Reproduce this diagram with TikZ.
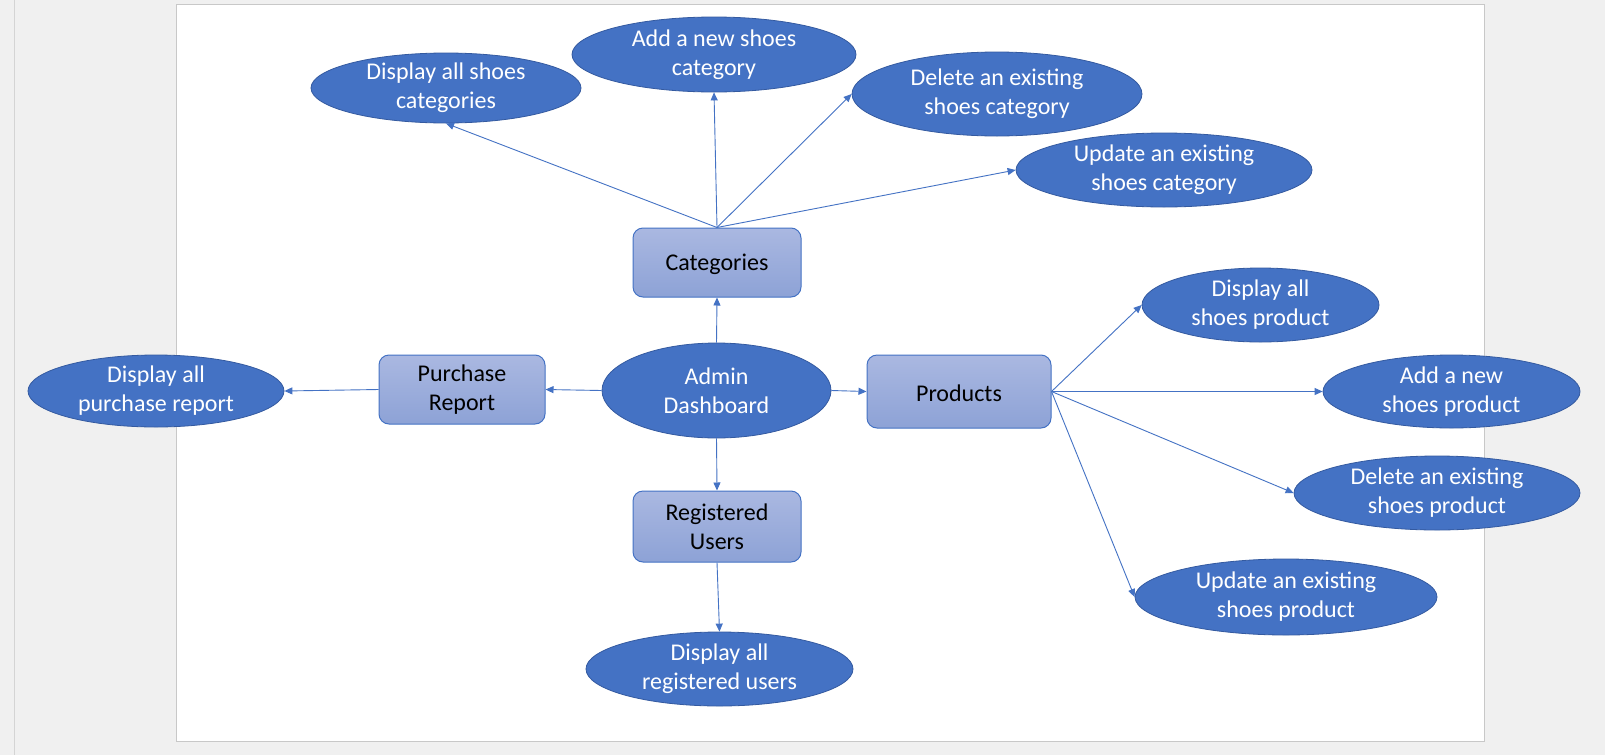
\documentclass[tikz,border=0pt]{standalone}
\usepackage{fontspec}
\setmainfont{Carlito}
\usetikzlibrary{shapes.geometric,arrows.meta}
\definecolor{obl}{RGB}{68,114,196}
\definecolor{oedge}{RGB}{52,90,160}
\definecolor{btop}{RGB}{170,184,225}
\definecolor{bbot}{RGB}{141,162,214}
\definecolor{bgc}{RGB}{240,240,240}
\definecolor{pageedge}{RGB}{200,200,200}
\definecolor{sideline}{RGB}{212,212,212}
\begin{document}
\begin{tikzpicture}[x=1pt,y=-1pt,
  usecase/.style={ellipse, fill=obl, draw=oedge, line width=0.8pt, text=white,
    inner sep=-6pt, align=center, font=\fontsize{24}{29}\selectfont,
    execute at begin node={\rule{0pt}{20pt}}},
  module/.style={rectangle, rounded corners=10pt, top color=btop, bottom color=bbot,
    draw=obl, line width=1pt, text=black, inner sep=0pt, align=center,
    font=\fontsize{24}{29}\selectfont, execute at begin node={\rule{0pt}{20pt}}},
  link/.style={draw=obl, line width=0.9pt, -{Triangle[length=8pt,width=7pt]}}]
\useasboundingbox (0,0) rectangle (1605,755);
\fill[bgc] (0,0) rectangle (1605,755);
\draw[sideline, line width=1pt] (14,0) -- (14,755);
\filldraw[fill=white, draw=pageedge, line width=1pt] (176.5,4.5) rectangle (1484,741);

% modules
\node[module, minimum width=168pt, minimum height=69pt] (cat) at (717,262.5) {Categories};
\node[module, minimum width=166pt, minimum height=69pt] (purch) at (462,389.5) {Purchase\\Report};
\node[module, minimum width=168pt, minimum height=71pt] (reg) at (717,526.5) {Registered\\Users};
\node[module, minimum width=184pt, minimum height=73pt] (prod) at (959,391.5) {Products};

% use cases
\node[usecase, minimum width=229pt, minimum height=95pt] (admin) at (716.5,390.5) {Admin\\Dashboard};
\node[usecase, minimum width=270pt, minimum height=70pt] (dcat) at (446,88) {Display all shoes\\categories};
\node[usecase, minimum width=284pt, minimum height=75pt] (acat) at (714,54.5) {Add a new shoes\\category};
\node[usecase, minimum width=290pt, minimum height=84pt] (delcat) at (997,94) {Delete an existing\\shoes category};
\node[usecase, minimum width=296pt, minimum height=74pt] (ucat) at (1164,170) {Update an existing\\shoes category};
\node[usecase, minimum width=256pt, minimum height=72pt] (dpurch) at (156,391) {Display all\\purchase report};
\node[usecase, minimum width=267pt, minimum height=74pt] (dreg) at (719.5,669) {Display all\\registered users};
\node[usecase, minimum width=237pt, minimum height=74pt] (dprod) at (1260.5,305) {Display all\\shoes product};
\node[usecase, minimum width=257pt, minimum height=73pt] (aprod) at (1451.5,391.5) {Add a new\\shoes product};
\node[usecase, minimum width=286pt, minimum height=74pt] (delprod) at (1437,493) {Delete an existing\\shoes product};
\node[usecase, minimum width=302pt, minimum height=76pt] (uprod) at (1286,597) {Update an existing\\shoes product};

% connectors
\draw[link] (admin.north) -- (cat.south);
\draw[link] (admin.south) -- (reg.north);
\draw[link] (admin.east) -- (prod.west);
\draw[link] (admin.west) -- (purch.east);
\draw[link] (purch.west) -- (dpurch.east);
\draw[link] (reg.south) -- (dreg.north);
\draw[link] (cat.north) -- (dcat.south);
\draw[link] (cat.north) -- (acat.south);
\draw[link] (cat.north) -- (delcat.west);
\draw[link] (cat.north) -- (ucat.west);
\draw[link] (prod.east) -- (dprod.west);
\draw[link] (prod.east) -- (aprod.west);
\draw[link] (prod.east) -- (delprod.west);
\draw[link] (prod.east) -- (uprod.west);
\end{tikzpicture}
\end{document}
